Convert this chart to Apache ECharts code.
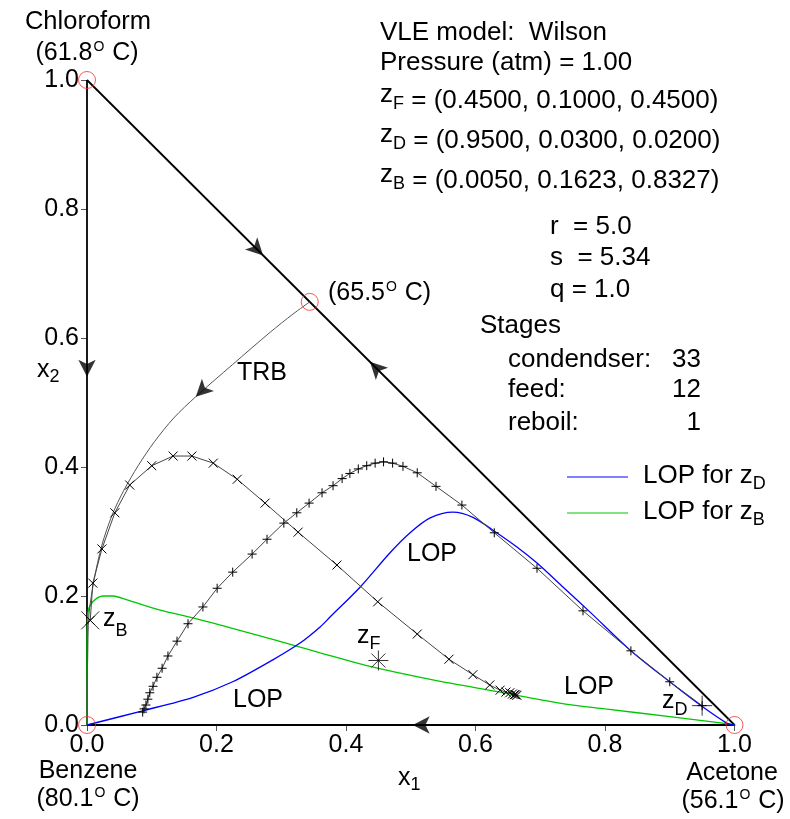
<!DOCTYPE html>
<html>
<head>
<meta charset="utf-8">
<script src="https://cdn.jsdelivr.net/npm/echarts@6/dist/echarts.min.js"></script>
<style>
  html, body { margin: 0; padding: 0; background: #fff; }
  #chart { width: 790px; height: 819px; }
</style>
</head>
<body>
<div id="chart"></div>
<script>
// ---- composition data, (x1 = acetone, x2 = chloroform) ----
const edgeChloroformBenzene = [[0, 1], [0, 0]];
const edgeBenzeneAcetone = [[1, 0], [0, 0]];
const edgeChloroformAcetone = [[0, 1], [1, 0]];

// pure components and the chloroform–acetone azeotrope
const singularPoints = [[0, 1], [0, 0], [1, 0], [0.344, 0.656]];

// distillation boundary from the azeotrope
const trbBoundary = [
  [0.344, 0.656], [0.318, 0.637], [0.283, 0.609], [0.225, 0.559], [0.168, 0.509],
  [0.134, 0.476], [0.104, 0.439], [0.079, 0.402], [0.057, 0.364], [0.039, 0.326],
  [0.023, 0.279], [0.011, 0.225], [0.003, 0.171], [0.001, 0.100], [0, 0.040], [0, 0]
];

// limiting operating profile for the distillate
const lopDistillate = [
  [0, 0], [0.086, 0.022], [0.164, 0.043], [0.225, 0.067], [0.287, 0.101],
  [0.329, 0.127], [0.360, 0.152], [0.375, 0.167], [0.422, 0.214], [0.468, 0.267],
  [0.499, 0.298], [0.530, 0.321], [0.565, 0.330], [0.596, 0.322], [0.627, 0.302],
  [0.664, 0.276], [0.695, 0.251], [0.735, 0.214], [0.777, 0.175], [0.839, 0.116],
  [0.900, 0.067], [0.947, 0.031], [0.988, 0.003], [1, 0]
];

// limiting operating profile for the bottoms
const lopBottoms = [
  [0, 0], [0, 0.121], [0.0015, 0.174], [0.009, 0.191], [0.025, 0.200],
  [0.040, 0.200], [0.062, 0.194], [0.113, 0.178], [0.164, 0.166], [0.216, 0.152],
  [0.267, 0.138], [0.318, 0.124], [0.360, 0.112], [0.432, 0.092], [0.534, 0.070],
  [0.638, 0.051], [0.730, 0.034], [0.800, 0.025], [0.900, 0.013], [0.988, 0.002], [1, 0]
];

// stripping-section stage compositions, starting at the bottoms
const strippingProfile = [
  [0.005, 0.1623], [0.009, 0.220], [0.023, 0.273], [0.043, 0.329], [0.066, 0.372],
  [0.100, 0.402], [0.133, 0.417], [0.162, 0.417], [0.195, 0.406], [0.232, 0.381],
  [0.275, 0.344], [0.326, 0.299], [0.386, 0.248], [0.449, 0.191], [0.510, 0.141],
  [0.559, 0.102], [0.596, 0.078], [0.622, 0.062], [0.638, 0.054], [0.647, 0.051],
  [0.653, 0.050], [0.657, 0.048], [0.660, 0.047], [0.662, 0.047], [0.664, 0.046]
];

// rectifying-section stage compositions, starting at the distillate
const rectifyingProfile = [
  [0.950, 0.030], [0.900, 0.067], [0.840, 0.115], [0.766, 0.177], [0.695, 0.243],
  [0.629, 0.298], [0.579, 0.341], [0.539, 0.370], [0.510, 0.391], [0.488, 0.401],
  [0.472, 0.406], [0.458, 0.408], [0.445, 0.406], [0.432, 0.402], [0.419, 0.397],
  [0.406, 0.390], [0.394, 0.382], [0.380, 0.371], [0.363, 0.360], [0.343, 0.344],
  [0.324, 0.329], [0.304, 0.313], [0.278, 0.288], [0.255, 0.265], [0.225, 0.237],
  [0.201, 0.212], [0.179, 0.183], [0.156, 0.157], [0.139, 0.130], [0.125, 0.107],
  [0.116, 0.088], [0.108, 0.074], [0.102, 0.060], [0.097, 0.050], [0.094, 0.040],
  [0.091, 0.031], [0.088, 0.025], [0.086, 0.020]
];

const feedComp = [0.45, 0.10];
const distillateComp = [0.95, 0.03];
const bottomsComp = [0.005, 0.1623];

// direction arrows on the edges and on the boundary
const arrowMarks = [
  { at: [0, 0.540], toward: [0, 0] },
  { at: [0.503, 0], toward: [0, 0] },
  { at: [0.272, 0.728], toward: [1, 0] },
  { at: [0.437, 0.563], toward: [0, 1] },
  { at: [0.168, 0.509], toward: [0.134, 0.476] }
];

// ---- drawing ----
const FONT = '"Liberation Sans", Arial, sans-serif';
const measureCtx = document.createElement('canvas').getContext('2d');
function textWidth(t, size) {
  measureCtx.font = size + 'px ' + FONT;
  return measureCtx.measureText(t).width;
}
// a run of text pieces: [text, fontSize, dy, gapBefore]
function textRun(x, y, align, parts) {
  const widths = parts.map(p => textWidth(p[0], p[1]));
  const total = parts.reduce((s, p, i) => s + (p[3] || 0) + widths[i], 0);
  let cx = align === 'left' ? x : align === 'right' ? x - total : x - total / 2;
  const out = [];
  parts.forEach((p, i) => {
    cx += p[3] || 0;
    out.push({
      type: 'text', x: cx, y: y + (p[2] || 0), silent: true, z: 100,
      style: { text: p[0], font: p[1] + 'px ' + FONT, fill: '#000', textAlign: 'left', textVerticalAlign: 'middle' }
    });
    cx += widths[i];
  });
  return out;
}
function hline(x1, x2, y, color) {
  return { type: 'line', silent: true, z: 100, shape: { x1, y1: y, x2, y2: y }, style: { stroke: color, lineWidth: 1.2 } };
}

const PLUS = 'path://M0,5H10M5,0V10';
const CROSS = 'path://M0,0L10,10M0,10L10,0';
const STAR = 'path://M0,5H10M5,0V10M1.5,1.5L8.5,8.5M1.5,8.5L8.5,1.5';

const arrowData = arrowMarks.map(a => {
  const dx = a.toward[0] - a.at[0], dy = a.toward[1] - a.at[1];
  return { value: a.at, symbolRotate: Math.atan2(-dx, dy) * 180 / Math.PI };
});

function edge(data) {
  return { type: 'line', data, symbol: 'none', silent: true, z: 3,
    lineStyle: { color: '#000', width: 1.8 } };
}
function curve(data, color, width) {
  return { type: 'line', data, symbol: 'none', smooth: 0.3, silent: true, z: 4,
    lineStyle: { color, width } };
}
function profile(data, symbol) {
  return { type: 'line', data, symbol, symbolSize: 9, showSymbol: true, silent: true, z: 5,
    lineStyle: { color: '#444', width: 1 },
    itemStyle: { color: '#000', borderColor: '#000', borderWidth: 1 } };
}
function bigMark(pt, symbol, size) {
  return { type: 'scatter', data: [pt], symbol, symbolSize: size, silent: true, z: 6,
    itemStyle: { color: '#000', borderColor: '#000', borderWidth: 1 } };
}

const axisCommon = {
  type: 'value', min: 0, max: 1, interval: 0.2,
  splitLine: { show: false },
  axisTick: { show: true, length: 6, lineStyle: { color: '#555', width: 1 } },
  axisLabel: { color: '#000', fontSize: 25, fontFamily: FONT, margin: 8, formatter: v => v.toFixed(1) }
};

const graphics = [].concat(
  textRun(380, 33, 'left', [['VLE model:  Wilson', 26]]),
  textRun(380, 63, 'left', [['Pressure (atm) = 1.00', 26]]),
  textRun(380, 101, 'left', [['z', 26, -6], ['F', 18, 3.5], [' = (0.4500, 0.1000, 0.4500)', 26, 0]]),
  textRun(380, 141, 'left', [['z', 26, -6], ['D', 18, 3.5], [' = (0.9500, 0.0300, 0.0200)', 26, 0]]),
  textRun(380, 181, 'left', [['z', 26, -6], ['B', 18, 3.5], [' = (0.0050, 0.1623, 0.8327)', 26, 0]]),
  textRun(550, 227, 'left', [['r  = 5.0', 26]]),
  textRun(550, 258, 'left', [['s  = 5.34', 26]]),
  textRun(550, 290, 'left', [['q = 1.0', 26]]),
  textRun(480, 326, 'left', [['Stages', 26]]),
  textRun(508, 360, 'left', [['condendser:', 26]]),
  textRun(701, 360, 'right', [['33', 26]]),
  textRun(508, 390, 'left', [['feed:', 26]]),
  textRun(701, 390, 'right', [['12', 26]]),
  textRun(508, 423, 'left', [['reboil:', 26]]),
  textRun(701, 423, 'right', [['1', 26]]),
  [hline(567, 628, 477, '#0000ff'), hline(567, 628, 513, '#00c800')],
  textRun(643, 476, 'left', [['LOP for ', 26], ['z', 26, 0], ['D', 18, 8]]),
  textRun(643, 512, 'left', [['LOP for ', 26], ['z', 26, 0], ['B', 18, 8]]),
  textRun(88, 22, 'center', [['Chloroform', 25.5]]),
  textRun(87, 53, 'center', [['(61.8', 25], ['O', 14, -6, 1], [' C)', 25, 0, 1]]),
  textRun(328, 293, 'left', [['(65.5', 25], ['O', 14, -6, 1], [' C)', 25, 0, 1]]),
  textRun(88, 771, 'center', [['Benzene', 25]]),
  textRun(88, 799, 'center', [['(80.1', 25], ['O', 14, -6, 1], [' C)', 25, 0, 1]]),
  textRun(732, 773, 'center', [['Acetone', 25]]),
  textRun(733, 801, 'center', [['(56.1', 25], ['O', 14, -6, 1], [' C)', 25, 0, 1]]),
  textRun(262, 373, 'center', [['TRB', 25]]),
  textRun(432, 554, 'center', [['LOP', 25]]),
  textRun(258, 700, 'center', [['LOP', 25]]),
  textRun(589, 687, 'center', [['LOP', 25]]),
  textRun(103, 619, 'left', [['z', 25, 0], ['B', 18, 12]]),
  textRun(357, 636, 'left', [['z', 25, 0], ['F', 18, 8]]),
  textRun(662, 701, 'left', [['z', 25, 0], ['D', 18, 9]]),
  textRun(398, 778, 'left', [['x', 25, 0], ['1', 18, 7]]),
  textRun(37, 370, 'left', [['x', 25, 0], ['2', 18, 7]])
);

const chart = echarts.init(document.getElementById('chart'), null, { renderer: 'canvas' });
chart.setOption({
  animation: false,
  backgroundColor: '#fff',
  grid: { left: 87, right: 55.5, top: 80, bottom: 94 },
  xAxis: Object.assign({}, axisCommon, {
    axisLine: { show: true, lineStyle: { color: '#000', width: 1.8 } }
  }),
  yAxis: Object.assign({}, axisCommon, {
    axisLine: { show: false }
  }),
  series: [
    edge(edgeChloroformBenzene),
    edge(edgeBenzeneAcetone),
    edge(edgeChloroformAcetone),
    curve(lopBottoms, '#00c800', 1.3),
    curve(lopDistillate, '#0000ff', 1.3),
    curve(trbBoundary, '#555', 1),
    profile(strippingProfile, CROSS),
    profile(rectifyingProfile, PLUS),
    bigMark(bottomsComp, CROSS, 18),
    bigMark(feedComp, STAR, 20),
    bigMark(distillateComp, PLUS, 20),
    {
      type: 'scatter', data: singularPoints, symbol: 'circle', symbolSize: 17, silent: true, z: 7,
      itemStyle: { color: 'rgba(0,0,0,0)', borderColor: '#ee3333', borderWidth: 1 }
    },
    {
      type: 'scatter', data: arrowData, symbol: 'arrow', symbolSize: [13, 17], silent: true, z: 8,
      itemStyle: { color: '#000' }
    }
  ],
  graphic: { elements: graphics }
});
</script>
</body>
</html>
